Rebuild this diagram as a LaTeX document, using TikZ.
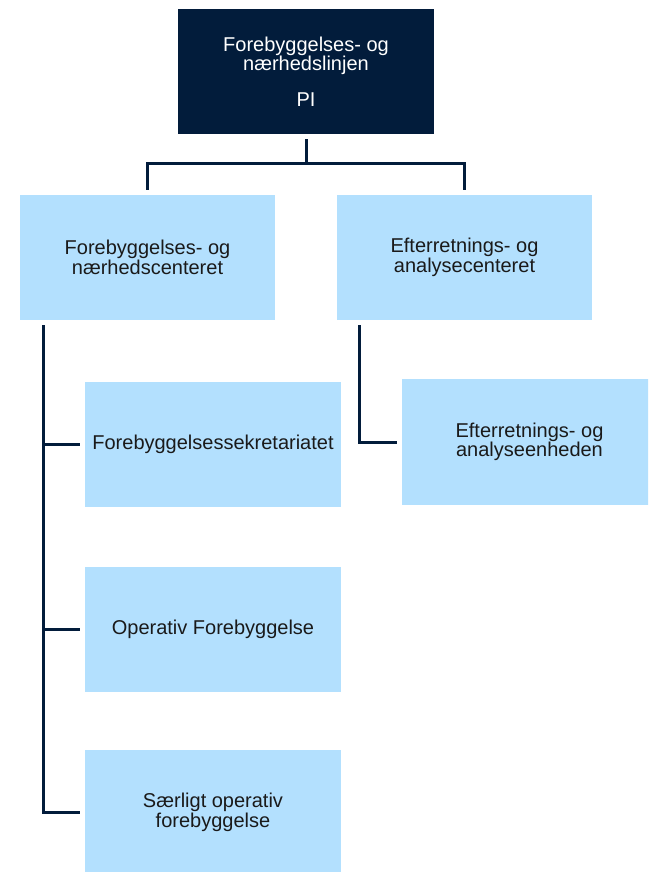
\documentclass[tikz,border=0pt]{standalone}
\usepackage{fontspec}
\setmainfont{Liberation Sans}
\definecolor{navy}{HTML}{021C3B}
\definecolor{lightblue}{HTML}{B3E0FE}
\definecolor{txt}{HTML}{1A1A1A}
\begin{document}
\begin{tikzpicture}[x=1pt,y=-1pt,
  topbox/.style={fill=navy, text=white, minimum width=256pt, minimum height=125pt, inner sep=0pt, align=center, font=\fontsize{20}{17.5}\selectfont},
  unitbox/.style={fill=lightblue, text=txt, minimum width=255pt, minimum height=125pt, inner sep=0pt, align=center, font=\fontsize{20}{18.3}\selectfont},
  conn/.style={draw=navy, line width=3pt}]
\useasboundingbox (0,0) rectangle (648,872);
\clip (0,0) rectangle (648,872);
\fill[white] (0,0) rectangle (648,872);

\node[topbox] (top) at (306,71.5) {Forebyggelses- og\\nærhedslinjen\\[16.3pt]PI};
\node[unitbox] (b1) at (147.5,257.5) {Forebyggelses- og\\nærhedscenteret};
\node[unitbox] (b2) at (464.5,257.5) {Efterretnings- og\\analysecenteret};
\node[unitbox, minimum width=256pt] (c1) at (213,444.5) {Forebyggelsessekretariatet};
\node[unitbox, minimum width=256pt] (c2) at (213,629) {Operativ Forebyggelse};
\node[unitbox, minimum width=256pt] (c3) at (213,812.5) {Særligt operativ\\forebyggelse};
\node[unitbox, minimum height=126pt] (d1) at (529.5,442) {Efterretnings- og\\analyseenheden};

% top to centres
\draw[conn] ([yshift=-5pt]top.south) -- ([yshift=-29pt]top.south) coordinate (bus);
\draw[conn] ([yshift=5pt]b1.north) |- (bus) -| ([yshift=5pt]b2.north);

% left spine
\coordinate (spine) at ([xshift=24pt,yshift=-5pt]b1.south west);
\draw[conn] (spine) |- ([xshift=-5pt]c3.west);
\draw[conn] (spine |- c1.west) -- ([xshift=-5pt]c1.west);
\draw[conn] (spine |- c2.west) -- ([xshift=-5pt]c2.west);

% right spine
\coordinate (rspine) at ([xshift=23pt,yshift=-5pt]b2.south west);
\draw[conn] (rspine) |- ([xshift=-5pt]d1.west);
\end{tikzpicture}
\end{document}
